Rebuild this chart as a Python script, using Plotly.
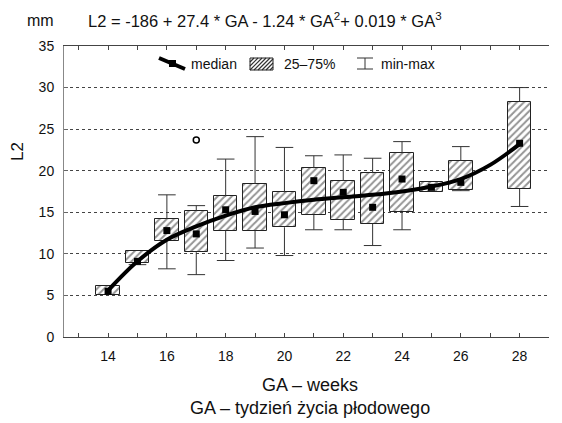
import plotly.graph_objects as go

# ---- data ----
weeks = [14, 15, 16, 17, 18, 19, 20, 21, 22, 23, 24, 25, 26, 28]
q_min = [5.1, 8.7, 8.2, 7.5, 9.2, 10.7, 9.8, 12.9, 12.9, 11.0, 12.9, 17.4, 17.6, 15.7]
q1 = [5.1, 8.9, 11.5, 10.2, 12.8, 12.8, 13.2, 14.7, 14.1, 13.6, 15.0, 17.4, 17.7, 17.8]
median = [5.5, 9.1, 12.8, 12.4, 15.3, 15.1, 14.7, 18.8, 17.4, 15.6, 19.0, 18.0, 18.6, 23.3]
q3 = [6.1, 10.3, 14.2, 15.2, 16.9, 18.4, 17.4, 20.3, 18.8, 19.7, 22.1, 18.7, 21.2, 28.3]
q_max = [6.1, 10.3, 17.1, 15.8, 21.4, 24.1, 22.8, 21.8, 21.9, 21.5, 23.5, 18.7, 22.9, 30.0]

outlier_week = [17]
outlier_value = [23.7]

fit_weeks = [14, 15, 16, 17, 18, 19, 20, 21, 22, 23, 24, 25, 26, 27, 28]
fit_values = [5.6, 9.1, 11.7, 13.3, 14.6, 15.6, 16.1, 16.5, 16.8, 17.1, 17.5, 18.1, 19.0, 20.7, 23.2]

x_tickvals = [14, 16, 18, 20, 22, 24, 26, 28]
x_ticktext = ["14", "16", "18", "20", "22", "24", "26", "28"]
x_minor_ticks = [13, 15, 17, 19, 21, 23, 25, 27]
y_tickvals = [0, 5, 10, 15, 20, 25, 30, 35]

FONT = "Liberation Sans, Arial, sans-serif"
CAP = 0.3

# whisker segments built from the data arrays
wx, wy = [], []
for w, lo, a, b, hi in zip(weeks, q_min, q1, q3, q_max):
    if hi > b:
        wx += [w, w, None, w - CAP, w + CAP, None]
        wy += [b, hi, None, hi, hi, None]
    if lo < a:
        wx += [w, w, None, w - CAP, w + CAP, None]
        wy += [a, lo, None, lo, lo, None]

fig = go.Figure()

fig.add_trace(go.Bar(
    x=weeks, base=q1, y=[b - a for a, b in zip(q1, q3)], width=0.8,
    marker=dict(color="white", line=dict(color="#222", width=1),
                pattern=dict(shape="/", fgcolor="#2a2a2a", bgcolor="white", size=5, solidity=0.4)),
    showlegend=False, hoverinfo="skip"))

fig.add_trace(go.Scatter(x=wx, y=wy, mode="lines", line=dict(color="#333", width=1),
                         showlegend=False, hoverinfo="skip"))

fig.add_trace(go.Scatter(x=fit_weeks, y=fit_values, mode="lines",
                         line=dict(color="black", width=4, shape="spline", smoothing=1.0),
                         showlegend=False))

fig.add_trace(go.Scatter(x=weeks, y=median, mode="markers",
                         marker=dict(symbol="square", size=7, color="black"), showlegend=False))

fig.add_trace(go.Scatter(x=outlier_week, y=outlier_value, mode="markers",
                         marker=dict(symbol="circle-open", size=6, color="black", line=dict(width=1.5)),
                         showlegend=False))

# ---- layout geometry (pixels) ----
L, R, T, B = 64, 13, 46, 86
W, H = 562, 423
PW, PH = W - L - R, H - T - B


def px(x):
    return (x - L) / PW


def py(y):
    return (H - B - y) / PH


shapes = []
# legend: median icon
shapes.append(dict(type="line", xref="paper", yref="paper", x0=px(159), y0=py(58), x1=px(185), y1=py(69),
                   line=dict(color="black", width=4)))
shapes.append(dict(type="rect", xref="paper", yref="paper", x0=px(169), y0=py(60), x1=px(176), y1=py(67),
                   fillcolor="black", line=dict(width=0)))
# legend: hatched box
bx0, bx1, by0, by1 = 250, 273, 58, 70
for k in range(-12, 24, 4):
    xs, ys = bx0 + k, by1
    xe, ye = bx0 + k + (by1 - by0), by0
    if xs < bx0:
        ys = by1 - (bx0 - xs)
        xs = bx0
    if xe > bx1:
        ye = by0 + (xe - bx1)
        xe = bx1
    if xe > xs:
        shapes.append(dict(type="line", xref="paper", yref="paper", x0=px(xs), y0=py(ys), x1=px(xe), y1=py(ye),
                           line=dict(color="#333", width=1.2)))
shapes.append(dict(type="rect", xref="paper", yref="paper", x0=px(bx0), y0=py(by1), x1=px(bx1), y1=py(by0),
                   line=dict(color="#222", width=1)))
# legend: min-max icon
shapes.append(dict(type="line", xref="paper", yref="paper", x0=px(365), y0=py(58), x1=px(365), y1=py(69),
                   line=dict(color="#333", width=1)))
shapes.append(dict(type="line", xref="paper", yref="paper", x0=px(357), y0=py(58), x1=px(373), y1=py(58),
                   line=dict(color="#333", width=1)))
shapes.append(dict(type="line", xref="paper", yref="paper", x0=px(357), y0=py(69), x1=px(373), y1=py(69),
                   line=dict(color="#333", width=1)))

annotations = [
    dict(text="median", x=px(189), y=py(64), xanchor="left", yanchor="middle", font=dict(size=14)),
    dict(text="25–75%", x=px(282), y=py(64), xanchor="left", yanchor="middle", font=dict(size=14)),
    dict(text="min-max", x=px(379), y=py(64), xanchor="left", yanchor="middle", font=dict(size=14)),
    dict(text="mm", x=px(25), y=py(20), xanchor="left", yanchor="middle", font=dict(size=16)),
    dict(text="L2 = -186 + 27.4 * GA - 1.24 * GA<sup>2</sup>+ 0.019 * GA<sup>3</sup>",
         x=px(86), y=py(20), xanchor="left", yanchor="middle", font=dict(size=16.5)),
    dict(text="L2", x=px(17), y=py(152), xanchor="center", yanchor="middle", textangle=-90, font=dict(size=17)),
    dict(text="GA – weeks", x=px(310), y=py(385), xanchor="center", yanchor="middle", font=dict(size=18)),
    dict(text="GA – tydzień życia płodowego", x=px(310), y=py(408), xanchor="center", yanchor="middle",
         font=dict(size=18)),
]
for a in annotations:
    a.update(xref="paper", yref="paper", showarrow=False)
    a["font"].update(family=FONT, color="#111")

fig.update_layout(
    width=W, height=H, margin=dict(l=L, r=R, t=T, b=B, pad=0),
    plot_bgcolor="white", paper_bgcolor="white",
    font=dict(family=FONT, size=14, color="#111"),
    showlegend=False, bargap=0,
    shapes=shapes, annotations=annotations,
    xaxis=dict(range=[12.5, 29], tickmode="array", tickvals=x_tickvals, ticktext=x_ticktext,
               ticks="inside", ticklen=4, tickcolor="#444", showline=True, linecolor="#444", linewidth=1,
               minor=dict(tickmode="array", tickvals=x_minor_ticks, ticks="inside", ticklen=4,
                          tickcolor="#444", showgrid=False),
               mirror="ticks", showgrid=False, zeroline=False, tickfont=dict(size=14),
               ticklabelstandoff=6),
    yaxis=dict(range=[0, 35], tickmode="array", tickvals=y_tickvals, ticks="inside", ticklen=4,
               tickcolor="#666", showline=True, linecolor="#888", linewidth=1, mirror=False,
               showgrid=True, gridcolor="#444", griddash="dot", gridwidth=1, zeroline=False,
               tickfont=dict(size=14), ticklabelstandoff=6),
)

fig.write_html("out.html")
